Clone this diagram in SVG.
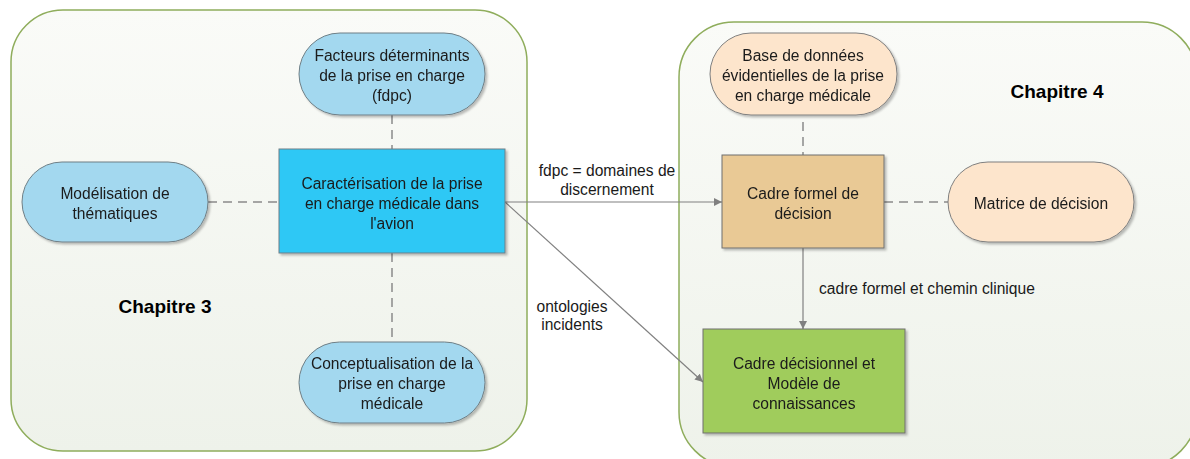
<svg xmlns="http://www.w3.org/2000/svg" width="1190" height="459" viewBox="0 0 1190 459">
<defs>
<linearGradient id="cg" x1="0" y1="0" x2="0" y2="1">
<stop offset="0" stop-color="#fafbf8"/>
<stop offset="1" stop-color="#eef2ea"/>
</linearGradient>
<filter id="sh" x="-10%" y="-10%" width="130%" height="130%">
<feDropShadow dx="2" dy="2" stdDeviation="1.2" flood-color="#000" flood-opacity="0.25"/>
</filter>
<marker id="ah" viewBox="0 0 10 10" refX="10" refY="5" markerWidth="8" markerHeight="8" markerUnits="userSpaceOnUse" orient="auto">
<path d="M0,0 L10,5 L0,10 z" fill="#808080"/>
</marker>
<style>
.cont{fill:url(#cg);stroke:#8fad5c;stroke-width:1.5}
.t{font-family:"Liberation Sans",Arial,sans-serif;font-size:15.6px;fill:#1a1a1a;text-anchor:middle}
.tl{font-family:"Liberation Sans",Arial,sans-serif;font-size:15.6px;fill:#1a1a1a}
.h{font-family:"Liberation Sans",Arial,sans-serif;font-size:19px;font-weight:bold;fill:#000;text-anchor:middle}
.blue{fill:#a3d8ef;stroke:#6f7f86;stroke-width:1}
.beige{fill:#fde5cc;stroke:#7f7f7f;stroke-width:1}
.dash{stroke:#8a8a8a;stroke-width:1.5;stroke-dasharray:9 6;fill:none}
.line{stroke:#808080;stroke-width:1.2;fill:none}
</style>
</defs>

<g id="chapitre3">
<rect class="cont" x="11" y="10" width="516" height="441" rx="52"/>
<text class="h" x="165" y="313">Chapitre 3</text>
</g>
<g id="chapitre4">
<rect class="cont" x="679" y="22" width="518" height="445" rx="55"/>
<text class="h" x="1057" y="98">Chapitre 4</text>
</g>

<g id="connectors">
<line class="dash" x1="392" y1="115" x2="392" y2="149"/>
<line class="dash" x1="208" y1="202" x2="279" y2="202"/>
<line class="dash" x1="392" y1="253" x2="392" y2="342"/>
<line class="dash" x1="803" y1="122" x2="803" y2="155"/>
<line class="dash" x1="884" y1="202" x2="948" y2="202"/>
<line class="line" x1="505" y1="202" x2="722" y2="202" marker-end="url(#ah)"/>
<line class="line" x1="505" y1="202" x2="703" y2="382" marker-end="url(#ah)"/>
<line class="line" x1="803" y1="248" x2="803" y2="329" marker-end="url(#ah)"/>
<text class="t" x="607" y="176">fdpc = domaines de</text>
<text class="t" x="607" y="195">discernement</text>
<text class="t" x="572" y="312">ontologies</text>
<text class="t" x="572" y="330">incidents</text>
<text class="tl" x="819" y="294">cadre formel et chemin clinique</text>
</g>

<g id="facteurs" filter="url(#sh)">
<rect class="blue" x="299" y="33" width="186" height="82" rx="41"/>
<text class="t" x="392" y="61">Facteurs déterminants</text>
<text class="t" x="392" y="81">de la prise en charge</text>
<text class="t" x="392" y="101">(fdpc)</text>
</g>
<g id="modelisation" filter="url(#sh)">
<rect class="blue" x="22" y="162" width="186" height="80" rx="40"/>
<text class="t" x="115" y="199">Modélisation de</text>
<text class="t" x="115" y="219">thématiques</text>
</g>
<g id="caracterisation" filter="url(#sh)">
<rect x="279" y="149" width="226" height="104" fill="#2ec8f5" stroke="#6f7f86" stroke-width="1"/>
<text class="t" x="392" y="189">Caractérisation de la prise</text>
<text class="t" x="392" y="209">en charge médicale dans</text>
<text class="t" x="392" y="229">l'avion</text>
</g>
<g id="conceptualisation" filter="url(#sh)">
<rect class="blue" x="299" y="342" width="186" height="81" rx="40.5"/>
<text class="t" x="392" y="369">Conceptualisation de la</text>
<text class="t" x="392" y="389">prise en charge</text>
<text class="t" x="392" y="409">médicale</text>
</g>
<g id="base" filter="url(#sh)">
<rect class="beige" x="710" y="33" width="187" height="82" rx="41"/>
<text class="t" x="803" y="61">Base de données</text>
<text class="t" x="803" y="81">évidentielles de la prise</text>
<text class="t" x="803" y="101">en charge médicale</text>
</g>
<g id="cadreformel" filter="url(#sh)">
<rect x="722" y="155" width="162" height="93" fill="#e9c995" stroke="#6f6f6f" stroke-width="1"/>
<text class="t" x="803" y="199">Cadre formel de</text>
<text class="t" x="803" y="219">décision</text>
</g>
<g id="matrice" filter="url(#sh)">
<rect class="beige" x="948" y="162" width="186" height="80" rx="40"/>
<text class="t" x="1041" y="209">Matrice de décision</text>
</g>
<g id="cadredecisionnel" filter="url(#sh)">
<rect x="703" y="329" width="202" height="104" fill="#a0cc5c" stroke="#6f6f6f" stroke-width="1"/>
<text class="t" x="804" y="369">Cadre décisionnel et</text>
<text class="t" x="804" y="389">Modèle de</text>
<text class="t" x="804" y="409">connaissances</text>
</g>
</svg>
